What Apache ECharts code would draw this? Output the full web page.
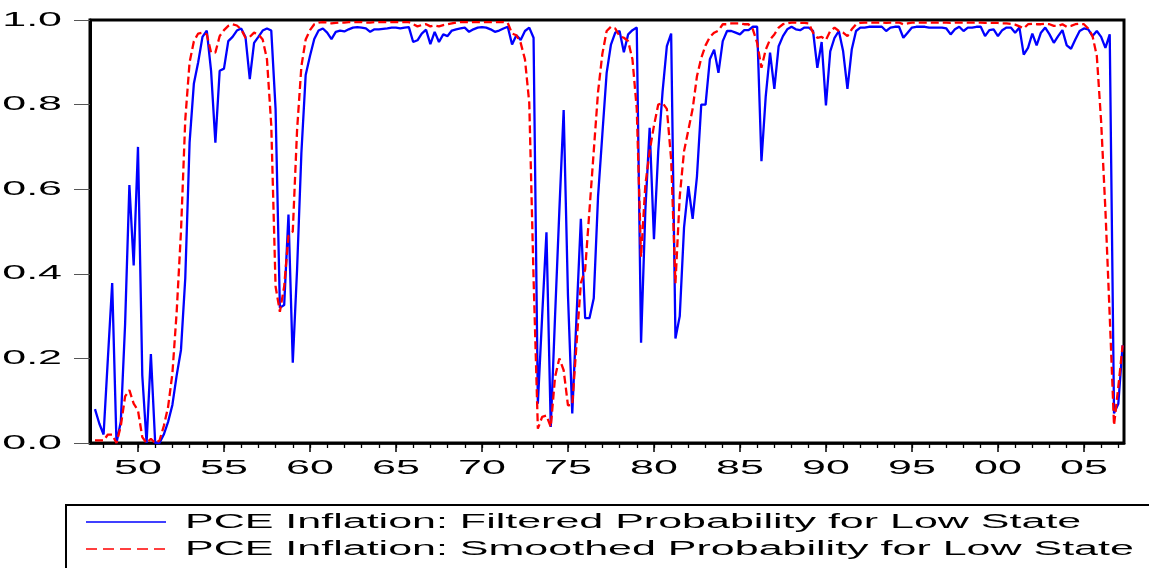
<!DOCTYPE html>
<html>
<head>
<meta charset="utf-8">
<script src="https://cdn.jsdelivr.net/npm/echarts@6/dist/echarts.min.js"></script>
<style>
  html, body { margin: 0; padding: 0; background: #fff; }
  #chart { width: 1149px; height: 568px; }
</style>
</head>
<body>
<div id="chart"></div>
<script>
// quarterly, first obs 1947Q3
var startYear = 1947.5

var filtered = [
  0.08, 0.046,
  0.02, 0.20, 0.378, 0.0,
  0.05, 0.28, 0.61, 0.42,
  0.70, 0.16, 0.0, 0.21,
  0.0, 0.0, 0.02, 0.05,
  0.09, 0.16, 0.22, 0.39,
  0.71, 0.85, 0.90, 0.96,
  0.975, 0.88, 0.71, 0.88,
  0.885, 0.95, 0.96, 0.975,
  0.98, 0.96, 0.86, 0.946,
  0.96, 0.975, 0.98, 0.975,
  0.79, 0.32, 0.326, 0.54,
  0.19, 0.41, 0.685, 0.87,
  0.915, 0.955, 0.975, 0.98,
  0.97, 0.955, 0.972, 0.975,
  0.973, 0.978, 0.982, 0.983,
  0.982, 0.98, 0.972, 0.978,
  0.978, 0.979, 0.98, 0.982,
  0.982, 0.98, 0.982, 0.983,
  0.948, 0.952, 0.968, 0.977,
  0.943, 0.972, 0.948, 0.966,
  0.962, 0.975, 0.978, 0.98,
  0.982, 0.972, 0.978, 0.982,
  0.983, 0.982, 0.978, 0.972,
  0.975, 0.98, 0.984, 0.942,
  0.964, 0.953, 0.974, 0.982,
  0.958, 0.093, 0.30, 0.498,
  0.038, 0.30, 0.55, 0.787,
  0.35, 0.07, 0.30, 0.53,
  0.295, 0.295, 0.342, 0.583,
  0.73, 0.875, 0.942, 0.97,
  0.974, 0.924, 0.966, 0.976,
  0.982, 0.237, 0.55, 0.745,
  0.482, 0.69, 0.83, 0.938,
  0.968, 0.247, 0.30, 0.51,
  0.607, 0.53, 0.63, 0.80,
  0.80, 0.907, 0.93, 0.875,
  0.95, 0.974, 0.974, 0.97,
  0.966, 0.976, 0.976, 0.984,
  0.984, 0.666, 0.82, 0.923,
  0.837, 0.938, 0.962, 0.978,
  0.984, 0.978, 0.976, 0.982,
  0.982, 0.974, 0.887, 0.948,
  0.798, 0.926, 0.958, 0.974,
  0.926, 0.837, 0.93, 0.974,
  0.982, 0.982, 0.984, 0.984,
  0.984, 0.984, 0.974, 0.982,
  0.984, 0.984, 0.958, 0.97,
  0.982, 0.984, 0.984, 0.984,
  0.982, 0.982, 0.982, 0.982,
  0.98, 0.966, 0.978, 0.984,
  0.974, 0.982, 0.982, 0.984,
  0.984, 0.962, 0.976, 0.978,
  0.962, 0.976, 0.982, 0.982,
  0.97, 0.982, 0.918, 0.934,
  0.968, 0.94, 0.97, 0.982,
  0.966, 0.946, 0.962, 0.976,
  0.94, 0.932, 0.954, 0.974,
  0.98, 0.978, 0.962, 0.974,
  0.96, 0.934, 0.966, 0.07,
  0.093, 0.231
]

var smoothed = [
  0.006, 0.006,
  0.006, 0.02, 0.02, 0.0,
  0.04, 0.11, 0.125, 0.093,
  0.077, 0.014, 0.0, 0.01,
  0.0, 0.006, 0.04, 0.085,
  0.164, 0.31, 0.50, 0.765,
  0.90, 0.95, 0.968, 0.97,
  0.966, 0.923, 0.923, 0.962,
  0.976, 0.986, 0.99, 0.987,
  0.978, 0.958, 0.96, 0.97,
  0.966, 0.954, 0.907, 0.75,
  0.37, 0.31, 0.37, 0.49,
  0.50, 0.74, 0.89, 0.954,
  0.976, 0.99, 0.994, 0.995,
  0.994, 0.992, 0.993, 0.994,
  0.994, 0.995, 0.995, 0.995,
  0.995, 0.994, 0.994, 0.995,
  0.995, 0.995, 0.995, 0.995,
  0.995, 0.995, 0.995, 0.995,
  0.99, 0.985, 0.988, 0.99,
  0.985, 0.987, 0.985, 0.988,
  0.99, 0.992, 0.994, 0.995,
  0.995, 0.995, 0.995, 0.995,
  0.995, 0.995, 0.995, 0.995,
  0.995, 0.995, 0.993, 0.968,
  0.964, 0.946, 0.907, 0.804,
  0.39, 0.034, 0.062, 0.065,
  0.038, 0.156, 0.20, 0.172,
  0.089, 0.09, 0.235, 0.378,
  0.41, 0.55, 0.69, 0.83,
  0.92, 0.974, 0.984, 0.98,
  0.962, 0.958, 0.95, 0.907,
  0.79, 0.44, 0.61, 0.69,
  0.75, 0.80, 0.804, 0.79,
  0.67, 0.378, 0.583, 0.69,
  0.74, 0.79, 0.867, 0.91,
  0.94, 0.96, 0.97, 0.975,
  0.99, 0.99, 0.992, 0.992,
  0.992, 0.99, 0.99, 0.978,
  0.946, 0.887, 0.93, 0.954,
  0.966, 0.982, 0.99, 0.992,
  0.994, 0.994, 0.993, 0.993,
  0.992, 0.97, 0.958, 0.96,
  0.953, 0.974, 0.982, 0.974,
  0.97, 0.962, 0.978, 0.99,
  0.993, 0.994, 0.994, 0.994,
  0.994, 0.994, 0.993, 0.994,
  0.994, 0.994, 0.99, 0.992,
  0.994, 0.994, 0.994, 0.994,
  0.994, 0.994, 0.994, 0.994,
  0.994, 0.993, 0.994, 0.994,
  0.994, 0.994, 0.994, 0.994,
  0.994, 0.993, 0.993, 0.993,
  0.993, 0.992, 0.992, 0.991,
  0.989, 0.985, 0.98, 0.99,
  0.991, 0.99, 0.99, 0.991,
  0.99, 0.986, 0.986, 0.99,
  0.984, 0.986, 0.99, 0.991,
  0.99, 0.98, 0.962, 0.915,
  0.76, 0.55, 0.30, 0.042,
  0.133, 0.231
]

var seriesNames = [
  'PCE Inflation: Filtered Probability for Low State',
  'PCE Inflation: Smoothed Probability for Low State'
]
var yTicks = [0, 0.2, 0.4, 0.6, 0.8, 1.0]
var xLabelYears = [1950, 1955, 1960, 1965, 1970, 1975, 1980, 1985, 1990, 1995, 2000, 2005]

var minorYears = []
for (var yr = 1948; yr <= 2007; yr++) minorYears.push(yr)

var FONT = '20px "Liberation Sans", Arial, sans-serif'
var STRETCH = 2.15 // text in the source is drawn wide

function toPairs(vals) {
  return vals.map(function(v, i) { return [startYear + i * 0.25, v] })
}

var chart = echarts.init(document.getElementById('chart'))

chart.setOption({
  animation: false,
  backgroundColor: '#fff',
  grid: {
    left: 90,
    right: 25,
    top: 20,
    bottom: 125,
    show: true,
    borderColor: '#000',
    borderWidth: 3
  },
  xAxis: [
    {
      type: 'value',
      min: 1947.21,
      max: 2007.33,
      axisLine: { show: true, onZero: false, lineStyle: { color: '#000', width: 2.5 } },
      axisTick: { show: true, customValues: minorYears, length: 5, lineStyle: { color: '#000', width: 1.3 } },
      axisLabel: { show: false },
      splitLine: { show: false }
    },
    {
      type: 'value',
      position: 'bottom',
      min: 1947.21,
      max: 2007.33,
      axisLine: { show: false },
      axisTick: { show: true, customValues: xLabelYears, length: 9, lineStyle: { color: '#000', width: 1.5 } },
      axisLabel: { show: false },
      splitLine: { show: false }
    }
  ],
  yAxis: {
    type: 'value',
    min: 0,
    max: 1,
    interval: 0.2,
    axisLine: { show: true, lineStyle: { color: '#000', width: 3 } },
    axisTick: { show: true, length: 16, lineStyle: { color: '#555', width: 1 } },
    axisLabel: { show: false },
    splitLine: { show: false }
  },
  series: [
    {
      name: seriesNames[0],
      type: 'line',
      data: toPairs(filtered),
      showSymbol: false,
      lineStyle: { color: '#0000ff', width: 2.3 },
      itemStyle: { color: '#0000ff' },
      z: 2
    },
    {
      name: seriesNames[1],
      type: 'line',
      data: toPairs(smoothed),
      showSymbol: false,
      lineStyle: { color: '#ff0000', width: 2.3, type: [8, 4] },
      itemStyle: { color: '#ff0000' },
      z: 3
    }
  ]
})

// tick labels and legend, stretched horizontally like the original
var g = []
yTicks.forEach(function(v) {
  var py = chart.convertToPixel({ yAxisIndex: 0 }, v)
  g.push({
    type: 'text', x: 62, y: py, scaleX: STRETCH, silent: true,
    style: { text: v.toFixed(1), font: FONT, fill: '#000', align: 'right', verticalAlign: 'middle' }
  })
})
xLabelYears.forEach(function(yv) {
  var px = chart.convertToPixel({ xAxisIndex: 0 }, yv)
  g.push({
    type: 'text', x: px, y: 468, scaleX: STRETCH, silent: true,
    style: { text: String(yv).slice(2), font: FONT, fill: '#000', align: 'center', verticalAlign: 'middle' }
  })
})

g.push({
  type: 'rect', silent: true,
  shape: { x: 66, y: 505, width: 1110, height: 90 },
  style: { fill: '#fff', stroke: '#000', lineWidth: 2 }
})
g.push({
  type: 'line', silent: true,
  shape: { x1: 86, y1: 522, x2: 166, y2: 522 },
  style: { stroke: '#0000ff', lineWidth: 1.5 }
})
g.push({
  type: 'line', silent: true,
  shape: { x1: 86, y1: 549, x2: 166, y2: 549 },
  style: { stroke: '#ff0000', lineWidth: 1.5, lineDash: [11, 6] }
})
seriesNames.forEach(function(name, i) {
  g.push({
    type: 'text', x: 185, y: 522 + i * 27, scaleX: STRETCH, silent: true,
    style: { text: name, font: FONT, fill: '#000', align: 'left', verticalAlign: 'middle' }
  })
})

chart.setOption({ graphic: g })
</script>
</body>
</html>
